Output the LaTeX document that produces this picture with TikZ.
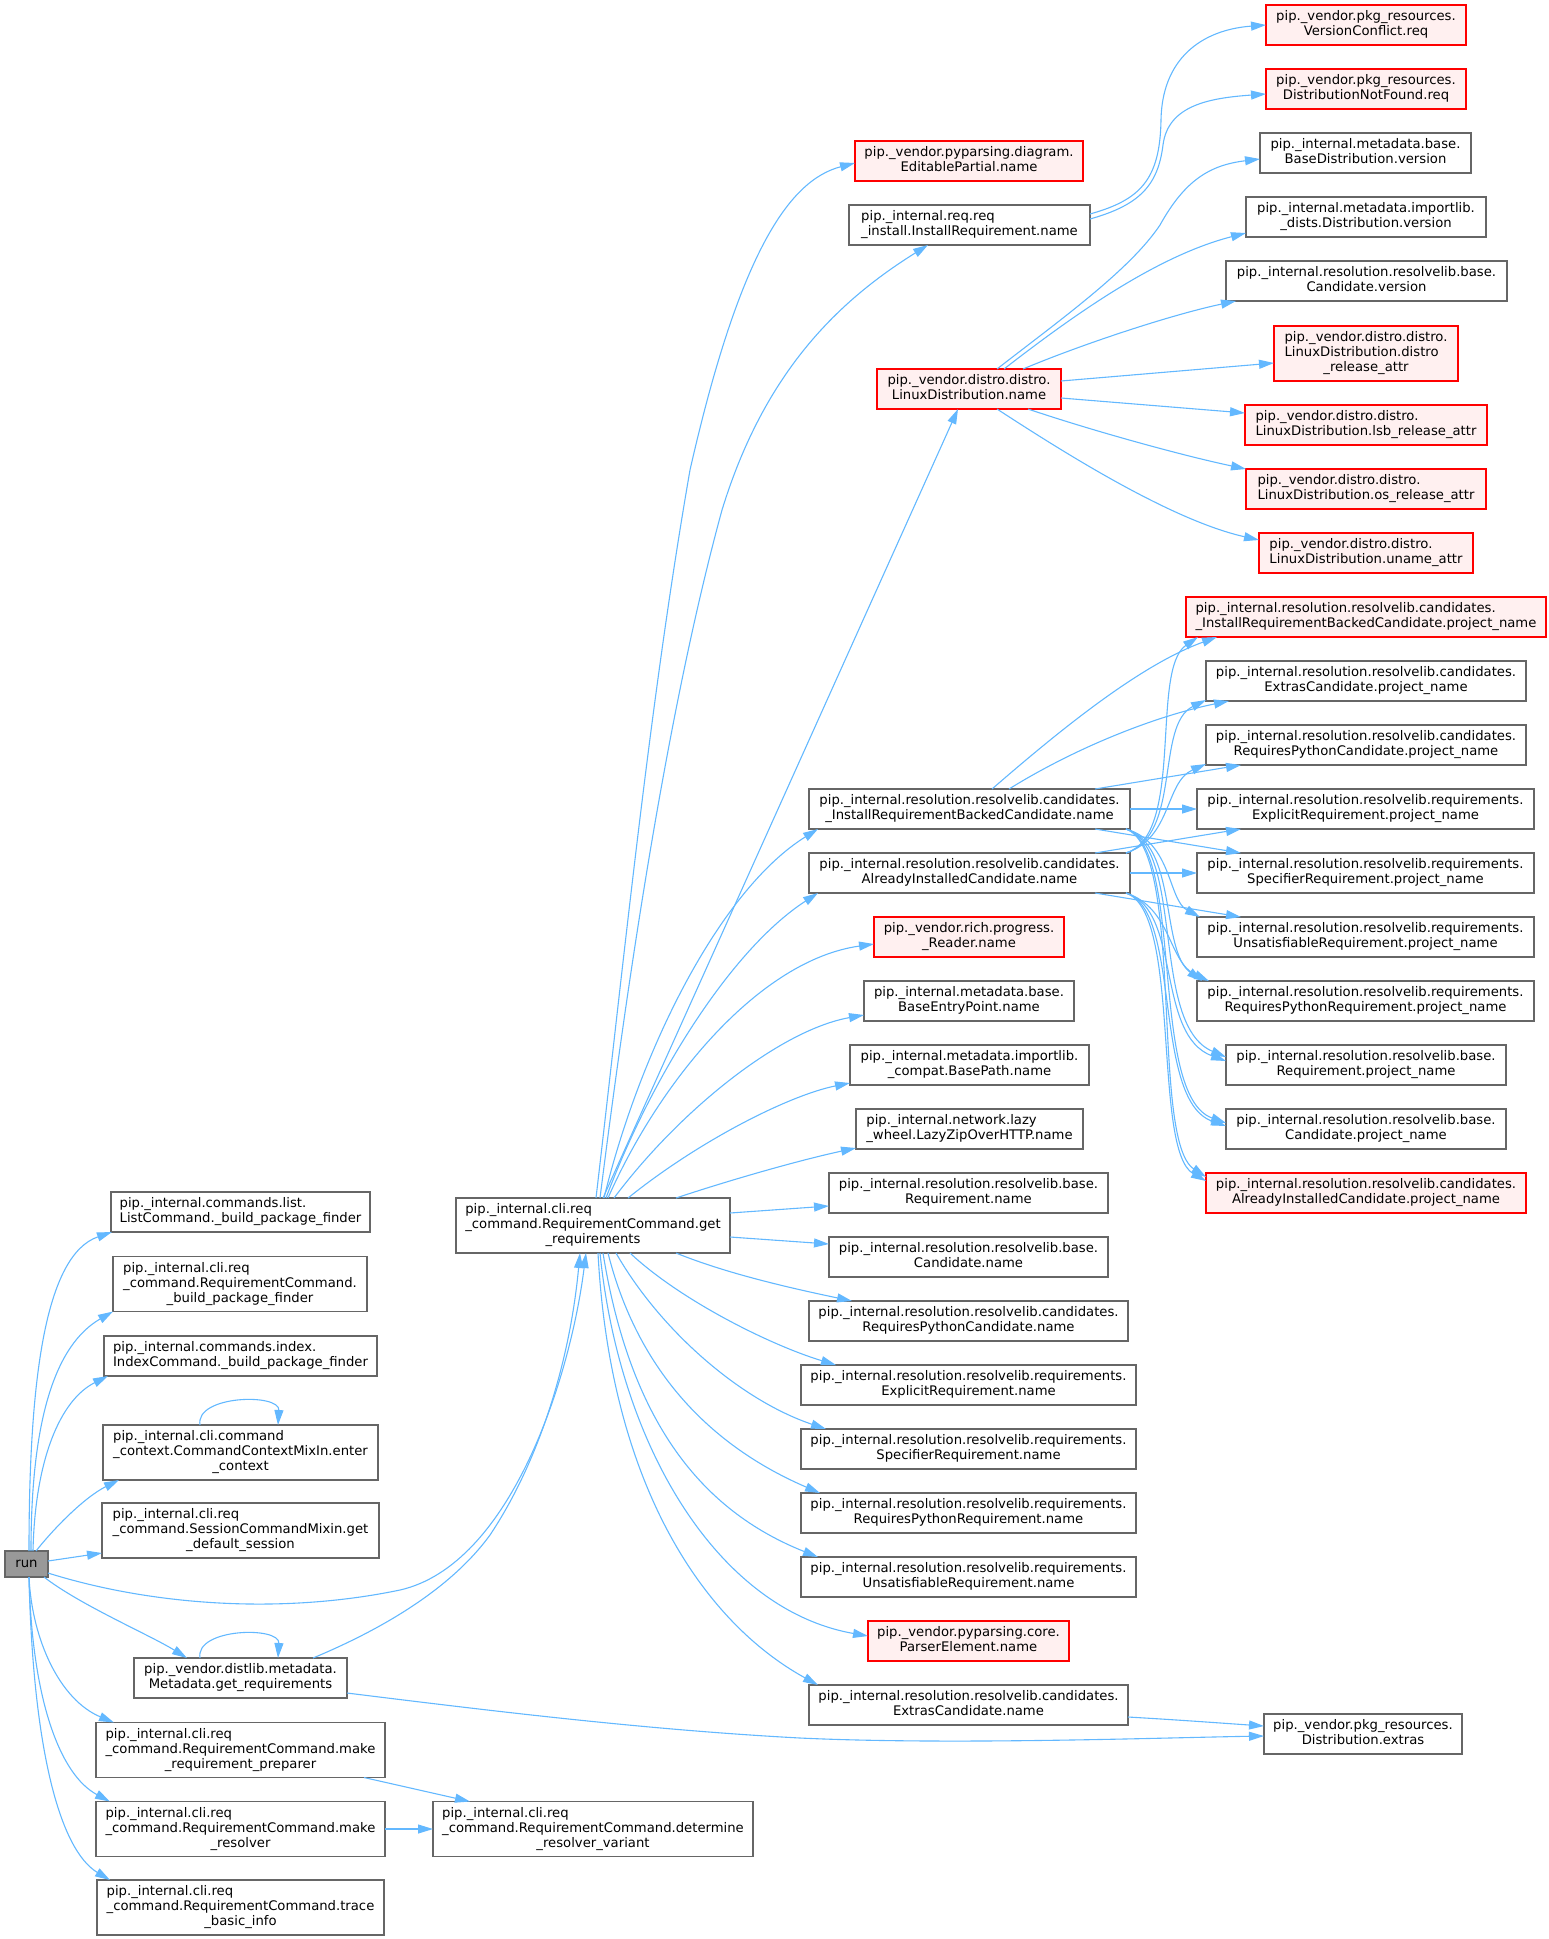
\documentclass[tikz,border=0pt]{standalone}
\usepackage{fontspec}
\newfontfamily\dvs{DejaVu Sans}
\usetikzlibrary{arrows.meta,calc}
\definecolor{edgec}{HTML}{63B8FF}
\definecolor{boxgrey}{HTML}{666666}
\definecolor{redfill}{HTML}{FFF0F0}
\definecolor{rootfill}{HTML}{999999}
\newcommand\labTwo[2]{\begin{tabular}{@{}l@{}}#1\\\multicolumn{1}{@{}c@{}}{#2}\end{tabular}}
\newcommand\labThree[3]{\begin{tabular}{@{}l@{}}#1\\#2\\\multicolumn{1}{@{}c@{}}{#3}\end{tabular}}
\tikzset{
  gbox/.style={draw=boxgrey, fill=white, line width=1.2pt, inner sep=0pt, outer sep=0pt,
    font=\dvs\fontsize{13.2}{15}\selectfont, text=black},
  rbox/.style={gbox, draw=red, fill=redfill},
  rootbox/.style={gbox, fill=rootfill},
  callto/.style={draw=edgec, line width=1.1pt, -{Triangle[length=15pt,width=9pt]}},
}
\begin{document}
\begin{tikzpicture}[x=1pt,y=-1pt]
\useasboundingbox (0,0) rectangle (1548,1939);
% ---------- left column
\node[rootbox, minimum width=43, minimum height=26] (run) at (26.5,1564) {run};
\node[gbox, minimum width=259, minimum height=40] (ListCmd) at (240.5,1212) {\labTwo{pip.\_internal.commands.list.}{ListCommand.\_build\_package\_finder}};
\node[gbox, minimum width=254, minimum height=55] (ReqCmdBuild) at (240,1284) {\labThree{pip.\_internal.cli.req}{\_command.RequirementCommand.}{\_build\_package\_finder}};
\node[gbox, minimum width=273, minimum height=40] (IndexCmd) at (240.5,1356) {\labTwo{pip.\_internal.commands.index.}{IndexCommand.\_build\_package\_finder}};
\node[gbox, minimum width=275, minimum height=55] (EnterCtx) at (240.5,1452.5) {\labThree{pip.\_internal.cli.command}{\_context.CommandContextMixIn.enter}{\_context}};
\node[gbox, minimum width=277, minimum height=55] (GetDefSession) at (240.5,1530.5) {\labThree{pip.\_internal.cli.req}{\_command.SessionCommandMixin.get}{\_default\_session}};
\node[gbox, minimum width=213, minimum height=40] (MetaGetReq) at (240.5,1678) {\labTwo{pip.\_vendor.distlib.metadata.}{Metadata.get\_requirements}};
\node[gbox, minimum width=289, minimum height=55] (MakePreparer) at (240.5,1750) {\labThree{pip.\_internal.cli.req}{\_command.RequirementCommand.make}{\_requirement\_preparer}};
\node[gbox, minimum width=289, minimum height=55] (MakeResolver) at (240.5,1829) {\labThree{pip.\_internal.cli.req}{\_command.RequirementCommand.make}{\_resolver}};
\node[gbox, minimum width=287, minimum height=55] (TraceInfo) at (240.5,1907.5) {\labThree{pip.\_internal.cli.req}{\_command.RequirementCommand.trace}{\_basic\_info}};
% ---------- second column
\node[gbox, minimum width=274, minimum height=55] (main) at (593,1225.5) {\labThree{pip.\_internal.cli.req}{\_command.RequirementCommand.get}{\_requirements}};
\node[gbox, minimum width=320, minimum height=55] (Determine) at (593,1829) {\labThree{pip.\_internal.cli.req}{\_command.RequirementCommand.determine}{\_resolver\_variant}};
% ---------- third column
\node[rbox, minimum width=228, minimum height=40] (EditablePartial) at (969,161) {\labTwo{pip.\_vendor.pyparsing.diagram.}{EditablePartial.name}};
\node[gbox, minimum width=241, minimum height=40] (InstallReq) at (969.5,225) {\labTwo{pip.\_internal.req.req}{\_install.InstallRequirement.name}};
\node[rbox, minimum width=184, minimum height=40] (LinuxDist) at (969,389) {\labTwo{pip.\_vendor.distro.distro.}{LinuxDistribution.name}};
\node[gbox, minimum width=321, minimum height=40] (IRBCname) at (969.5,809) {\labTwo{pip.\_internal.resolution.resolvelib.candidates.}{\_InstallRequirementBackedCandidate.name}};
\node[gbox, minimum width=321, minimum height=40] (AICname) at (969.5,873) {\labTwo{pip.\_internal.resolution.resolvelib.candidates.}{AlreadyInstalledCandidate.name}};
\node[rbox, minimum width=190, minimum height=40] (Reader) at (969,937) {\labTwo{pip.\_vendor.rich.progress.}{\_Reader.name}};
\node[gbox, minimum width=210, minimum height=40] (BaseEntryPoint) at (969,1001) {\labTwo{pip.\_internal.metadata.base.}{BaseEntryPoint.name}};
\node[gbox, minimum width=239, minimum height=40] (BasePath) at (969.5,1065) {\labTwo{pip.\_internal.metadata.importlib.}{\_compat.BasePath.name}};
\node[gbox, minimum width=227, minimum height=40] (LazyZip) at (969.5,1129) {\labTwo{pip.\_internal.network.lazy}{\_wheel.LazyZipOverHTTP.name}};
\node[gbox, minimum width=279, minimum height=40] (BaseReqName) at (968.5,1193) {\labTwo{pip.\_internal.resolution.resolvelib.base.}{Requirement.name}};
\node[gbox, minimum width=279, minimum height=40] (BaseCandName) at (968.5,1257) {\labTwo{pip.\_internal.resolution.resolvelib.base.}{Candidate.name}};
\node[gbox, minimum width=319, minimum height=40] (RPCname) at (968.5,1321) {\labTwo{pip.\_internal.resolution.resolvelib.candidates.}{RequiresPythonCandidate.name}};
\node[gbox, minimum width=335, minimum height=40] (ExplicitName) at (968.5,1385) {\labTwo{pip.\_internal.resolution.resolvelib.requirements.}{ExplicitRequirement.name}};
\node[gbox, minimum width=335, minimum height=40] (SpecifierName) at (968.5,1449) {\labTwo{pip.\_internal.resolution.resolvelib.requirements.}{SpecifierRequirement.name}};
\node[gbox, minimum width=335, minimum height=40] (RPRname) at (968.5,1513) {\labTwo{pip.\_internal.resolution.resolvelib.requirements.}{RequiresPythonRequirement.name}};
\node[gbox, minimum width=335, minimum height=40] (UnsatName) at (968.5,1577) {\labTwo{pip.\_internal.resolution.resolvelib.requirements.}{UnsatisfiableRequirement.name}};
\node[rbox, minimum width=201, minimum height=40] (ParserElement) at (968.5,1641) {\labTwo{pip.\_vendor.pyparsing.core.}{ParserElement.name}};
\node[gbox, minimum width=319, minimum height=40] (ExtrasName) at (968.5,1705) {\labTwo{pip.\_internal.resolution.resolvelib.candidates.}{ExtrasCandidate.name}};
% ---------- right column
\node[rbox, minimum width=200, minimum height=40] (VersionConflict) at (1366,25) {\labTwo{pip.\_vendor.pkg\_resources.}{VersionConflict.req}};
\node[rbox, minimum width=200, minimum height=40] (DistNotFound) at (1366,89) {\labTwo{pip.\_vendor.pkg\_resources.}{DistributionNotFound.req}};
\node[gbox, minimum width=211, minimum height=40] (BaseDistVersion) at (1365.5,153) {\labTwo{pip.\_internal.metadata.base.}{BaseDistribution.version}};
\node[gbox, minimum width=240, minimum height=40] (DistsVersion) at (1366,217) {\labTwo{pip.\_internal.metadata.importlib.}{\_dists.Distribution.version}};
\node[gbox, minimum width=281, minimum height=40] (CandVersion) at (1366.5,281) {\labTwo{pip.\_internal.resolution.resolvelib.base.}{Candidate.version}};
\node[rbox, minimum width=184, minimum height=55] (DistroRelease) at (1366,353.5) {\labThree{pip.\_vendor.distro.distro.}{LinuxDistribution.distro}{\_release\_attr}};
\node[rbox, minimum width=242, minimum height=40] (LsbRelease) at (1366,425) {\labTwo{pip.\_vendor.distro.distro.}{LinuxDistribution.lsb\_release\_attr}};
\node[rbox, minimum width=240, minimum height=40] (OsRelease) at (1366,489) {\labTwo{pip.\_vendor.distro.distro.}{LinuxDistribution.os\_release\_attr}};
\node[rbox, minimum width=214, minimum height=40] (Uname) at (1366,553) {\labTwo{pip.\_vendor.distro.distro.}{LinuxDistribution.uname\_attr}};
\node[rbox, minimum width=360, minimum height=40] (IRBCpn) at (1366,617) {\labTwo{pip.\_internal.resolution.resolvelib.candidates.}{\_InstallRequirementBackedCandidate.project\_name}};
\node[gbox, minimum width=320, minimum height=40] (ExtrasPN) at (1366,681) {\labTwo{pip.\_internal.resolution.resolvelib.candidates.}{ExtrasCandidate.project\_name}};
\node[gbox, minimum width=320, minimum height=40] (RPCpn) at (1366,745) {\labTwo{pip.\_internal.resolution.resolvelib.candidates.}{RequiresPythonCandidate.project\_name}};
\node[gbox, minimum width=337, minimum height=40] (ExplicitPN) at (1365.5,809) {\labTwo{pip.\_internal.resolution.resolvelib.requirements.}{ExplicitRequirement.project\_name}};
\node[gbox, minimum width=337, minimum height=40] (SpecifierPN) at (1365.5,873) {\labTwo{pip.\_internal.resolution.resolvelib.requirements.}{SpecifierRequirement.project\_name}};
\node[gbox, minimum width=337, minimum height=40] (UnsatPN) at (1365.5,937) {\labTwo{pip.\_internal.resolution.resolvelib.requirements.}{UnsatisfiableRequirement.project\_name}};
\node[gbox, minimum width=337, minimum height=40] (RPRpn) at (1365.5,1001) {\labTwo{pip.\_internal.resolution.resolvelib.requirements.}{RequiresPythonRequirement.project\_name}};
\node[gbox, minimum width=280, minimum height=40] (BaseReqPN) at (1366,1065) {\labTwo{pip.\_internal.resolution.resolvelib.base.}{Requirement.project\_name}};
\node[gbox, minimum width=280, minimum height=40] (BaseCandPN) at (1366,1129) {\labTwo{pip.\_internal.resolution.resolvelib.base.}{Candidate.project\_name}};
\node[rbox, minimum width=320, minimum height=40] (AICpn) at (1366,1193) {\labTwo{pip.\_internal.resolution.resolvelib.candidates.}{AlreadyInstalledCandidate.project\_name}};
\node[gbox, minimum width=198, minimum height=40] (DistExtras) at (1363,1734) {\labTwo{pip.\_vendor.pkg\_resources.}{Distribution.extras}};
% ---------- edges from run
\draw[callto] ($(run.north)+(2.5,0)$) .. controls (29,1380) and (45,1255) .. ($(ListCmd.south west)+(1,0)$);
\draw[callto] ($(run.north)+(4.5,0)$) .. controls (31,1420) and (55,1345) .. (ReqCmdBuild.south west);
\draw[callto] ($(run.north)+(6.5,0)$) .. controls (35,1460) and (60,1400) .. ($(IndexCmd.south west)+(4,0)$);
\draw[callto] ($(run.north)+(9.5,0)$) .. controls (55,1527) and (85,1497) .. ($(EnterCtx.south west)+(16,0)$);
\draw[callto] ($(run.east)+(0,-3)$) -- ($(GetDefSession.south west)+(0,-5)$);
\draw[callto] ($(run.east)+(0,9)$) .. controls (150,1605) and (280,1615) .. (400,1590) .. controls (510,1565) and (570,1380) .. ($(main.south west)+(130,0)$);
\draw[callto] ($(run.south east)+(-4,0)$) .. controls (80,1605) and (150,1635) .. ($(MetaGetReq.north west)+(53,0)$);
\draw[callto] ($(run.south)+(2.5,0)$) .. controls (32,1640) and (60,1700) .. ($(MakePreparer.north west)+(18,0)$);
\draw[callto] ($(run.south)+(2.5,0)$) .. controls (32,1700) and (60,1775) .. ($(MakeResolver.north west)+(14,0)$);
\draw[callto] ($(run.south)+(2.5,0)$) .. controls (33,1750) and (60,1850) .. ($(TraceInfo.north west)+(13,0)$);
% ---------- self loops
\draw[callto] ($(EnterCtx.north west)+(97,0)$) .. controls (195,1395) and (280,1393) .. ($(EnterCtx.north west)+(175,0)$);
\draw[callto] ($(MetaGetReq.north west)+(66,0)$) .. controls (195,1628) and (280,1626) .. ($(MetaGetReq.north west)+(144,0)$);
% ---------- other left edges
\draw[callto] ($(MetaGetReq.north east)+(-34,0)$) .. controls (380,1630) and (450,1590) .. (490,1535) .. controls (540,1460) and (570,1360) .. ($(main.south west)+(124,0)$);
\draw[callto] ($(MetaGetReq.east)+(0,15)$) .. controls (500,1712) and (650,1730) .. (800,1738) .. controls (950,1745) and (1150,1738) .. ($(DistExtras.west)+(0,2)$);
\draw[callto] ($(ExtrasName.east)+(0,12)$) .. controls (1180,1720) and (1220,1723) .. ($(DistExtras.west)+(0,-8)$);
\draw[callto] ($(MakePreparer.south west)+(268,0)$) -- ($(Determine.north west)+(37,0)$);
\draw[callto] (MakeResolver.east) -- (Determine.west);
% ---------- edges from main (top)
\draw[callto] ($(main.north west)+(140,0)$) .. controls (625,950) and (650,700) .. (690,470) .. controls (740,250) and (790,180) .. ($(EditablePartial.west)+(0,2)$);
\draw[callto] ($(main.north west)+(144,0)$) .. controls (630,960) and (670,700) .. (722,510) .. controls (765,370) and (840,300) .. ($(InstallReq.south west)+(79,0)$);
\draw[callto] ($(main.north west)+(147,0)$) -- ($(LinuxDist.south west)+(81,0)$);
\draw[callto] ($(main.north west)+(148,0)$) .. controls (640,1050) and (720,890) .. ($(IRBCname.south west)+(9,0)$);
\draw[callto] ($(main.north west)+(150,0)$) .. controls (650,1080) and (730,950) .. ($(AICname.south west)+(9,0)$);
\draw[callto] ($(main.north west)+(152,0)$) .. controls (660,1080) and (760,960) .. ($(Reader.west)+(0,7)$);
\draw[callto] ($(main.north west)+(158,0)$) .. controls (680,1110) and (780,1030) .. ($(BaseEntryPoint.west)+(0,14)$);
\draw[callto] ($(main.north west)+(172,0)$) .. controls (700,1140) and (790,1095) .. ($(BasePath.west)+(0,18)$);
\draw[callto] ($(main.north west)+(220,0)$) .. controls (730,1180) and (800,1160) .. ($(LazyZip.south west)+(0,-1)$);
\draw[callto] ($(main.east)+(0,-12.5)$) -- ($(BaseReqName.west)+(0,13)$);
\draw[callto] ($(main.east)+(0,11.5)$) -- ($(BaseCandName.west)+(0,-13)$);
% ---------- edges from main (bottom)
\draw[callto] ($(main.south west)+(220,0)$) .. controls (730,1275) and (800,1290) .. ($(RPCname.north west)+(43,0)$);
\draw[callto] ($(main.south west)+(174,0)$) .. controls (680,1300) and (770,1345) .. ($(ExplicitName.north west)+(35,0)$);
\draw[callto] ($(main.south west)+(160,0)$) .. controls (660,1330) and (740,1400) .. ($(SpecifierName.north west)+(25,0)$);
\draw[callto] ($(main.south west)+(152,0)$) .. controls (640,1380) and (720,1450) .. ($(RPRname.north west)+(19,0)$);
\draw[callto] ($(main.south west)+(147,0)$) .. controls (630,1420) and (700,1510) .. ($(UnsatName.north west)+(17,0)$);
\draw[callto] ($(main.south west)+(144,0)$) .. controls (620,1450) and (720,1610) .. ($(ParserElement.west)+(0,-5)$);
\draw[callto] ($(main.south west)+(142,0)$) .. controls (610,1480) and (700,1620) .. ($(ExtrasName.north west)+(9,0)$);
% ---------- edges from LinuxDistribution.name
\draw[callto] ($(LinuxDist.north west)+(120,0)$) .. controls (1060,320) and (1130,270) .. (1160,225) .. controls (1185,180) and (1210,165) .. ($(BaseDistVersion.west)+(0,6)$);
\draw[callto] ($(LinuxDist.north west)+(127,0)$) .. controls (1080,310) and (1160,255) .. ($(DistsVersion.west)+(0,16)$);
\draw[callto] ($(LinuxDist.north west)+(146,0)$) .. controls (1080,345) and (1170,315) .. ($(CandVersion.south west)+(10,0)$);
\draw[callto] ($(LinuxDist.east)+(0,-8)$) -- ($(DistroRelease.west)+(0,9.5)$);
\draw[callto] ($(LinuxDist.east)+(0,9)$) -- ($(LsbRelease.west)+(0,-12)$);
\draw[callto] ($(LinuxDist.south west)+(151,0)$) .. controls (1090,430) and (1180,455) .. (OsRelease.north west);
\draw[callto] ($(LinuxDist.south west)+(120,0)$) .. controls (1060,450) and (1170,520) .. ($(Uname.west)+(0,-13)$);
% ---------- edges from InstallRequirement.name
\draw[callto] ($(InstallReq.east)+(0,-11)$) .. controls (1140,200) and (1160,180) .. (1161,120) .. controls (1162,60) and (1200,30) .. (VersionConflict.west);
\draw[callto] ($(InstallReq.east)+(0,-6)$) .. controls (1140,205) and (1158,185) .. (1163,145) .. controls (1168,105) and (1210,98) .. ($(DistNotFound.west)+(0,5)$);
% ---------- edges from _InstallRequirementBackedCandidate.name
\draw[callto] ($(IRBCname.north west)+(183,0)$) .. controls (1060,730) and (1140,665) .. ($(IRBCpn.south west)+(31,0)$);
\draw[callto] ($(IRBCname.north west)+(200,0)$) .. controls (1080,745) and (1160,715) .. ($(ExtrasPN.south west)+(23,0)$);
\draw[callto] ($(IRBCname.north east)+(-35,0)$) -- ($(RPCpn.south west)+(35,0)$);
\draw[callto] (IRBCname.east) -- (ExplicitPN.west);
\draw[callto] ($(IRBCname.south east)+(-35,0)$) -- ($(SpecifierPN.north west)+(44,0)$);
\draw[callto] ($(IRBCname.south east)+(-4,0)$) .. controls (1172,842) and (1168,900) .. ($(UnsatPN.north west)+(3,0)$);
\draw[callto] ($(IRBCname.south east)+(-4,0)$) .. controls (1178,845) and (1160,950) .. ($(RPRpn.north west)+(5,0)$);
\draw[callto] ($(IRBCname.south east)+(-4,0)$) .. controls (1185,848) and (1150,1025) .. ($(BaseReqPN.west)+(0,-8)$);
\draw[callto] ($(IRBCname.south east)+(-4,0)$) .. controls (1185,848) and (1148,1095) .. ($(BaseCandPN.west)+(0,-6)$);
\draw[callto] ($(IRBCname.south east)+(-4,0)$) .. controls (1185,850) and (1150,1140) .. ($(AICpn.north west)+(0,4)$);
% ---------- edges from AlreadyInstalledCandidate.name
\draw[callto] ($(AICname.north east)+(-4,0)$) .. controls (1185,835) and (1150,670) .. ($(IRBCpn.south west)+(12,0)$);
\draw[callto] ($(AICname.north east)+(-4,0)$) .. controls (1182,835) and (1155,725) .. ($(ExtrasPN.south west)+(0,-1)$);
\draw[callto] ($(AICname.north east)+(-4,0)$) .. controls (1172,838) and (1165,782) .. ($(RPCpn.south west)+(0,-1)$);
\draw[callto] ($(AICname.north east)+(-35,0)$) -- ($(ExplicitPN.south west)+(44,0)$);
\draw[callto] (AICname.east) -- (SpecifierPN.west);
\draw[callto] ($(AICname.south east)+(-35,0)$) -- ($(UnsatPN.north west)+(44,0)$);
\draw[callto] ($(AICname.south east)+(-4,0)$) .. controls (1172,908) and (1168,962) .. ($(RPRpn.north west)+(12,0)$);
\draw[callto] ($(AICname.south east)+(-4,0)$) .. controls (1182,910) and (1155,1035) .. ($(BaseReqPN.west)+(0,-4)$);
\draw[callto] ($(AICname.south east)+(-4,0)$) .. controls (1182,910) and (1152,1100) .. ($(BaseCandPN.west)+(0,-3)$);
\draw[callto] ($(AICname.south east)+(-4,0)$) .. controls (1182,912) and (1152,1150) .. ($(AICpn.north west)+(0,8)$);
\end{tikzpicture}
\end{document}
